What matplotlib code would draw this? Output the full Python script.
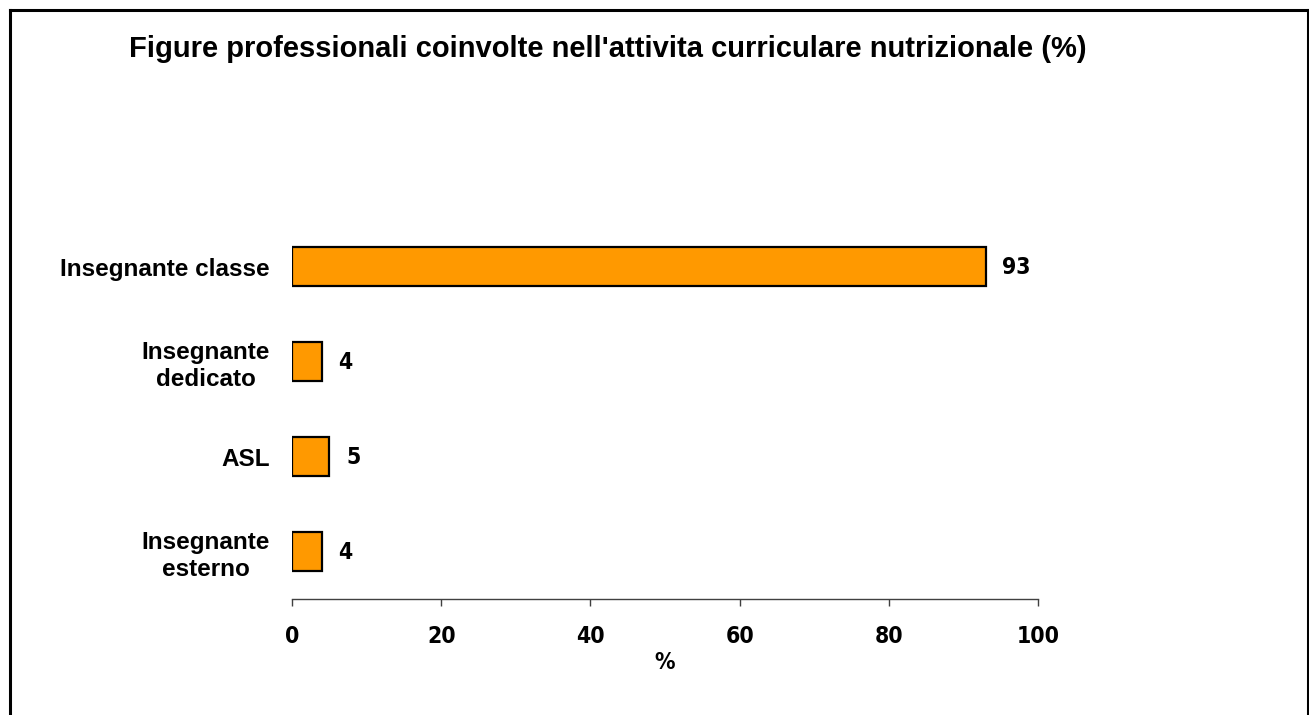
import matplotlib
matplotlib.use("Agg")
import matplotlib.pyplot as plt
from matplotlib.lines import Line2D
from matplotlib import font_manager

categories = ["Insegnante classe", "Insegnante\ndedicato", "ASL", "Insegnante\nesterno"]
values = [93, 4, 5, 4]
xticks = [0, 20, 40, 60, 80, 100]
title = "Figure professionali coinvolte nell'attivita curriculare nutrizionale (%)"

names = {f.name for f in font_manager.fontManager.ttflist}
if "Liberation Sans Narrow" in names:
    narrow = dict(fontfamily=["Liberation Sans Narrow"], fontstretch="normal")
else:
    narrow = dict(fontfamily=["DejaVu Sans"], fontstretch="condensed")
regular = ["Liberation Sans", "DejaVu Sans"]

fig = plt.figure(figsize=(13.09, 7.15), dpi=100)
ax = fig.add_axes([0.2231, 0.1622, 0.793 - 0.2231, 0.6937 - 0.1622])

ypos = list(range(len(categories)))
ax.barh(ypos, values, height=0.41, color="#FF9900", edgecolor="black", linewidth=1.6)
ax.set_ylim(len(categories) - 0.5, -0.5)
ax.set_xlim(0, 100)
ax.set_yticks(ypos)
ax.set_yticklabels(categories, fontfamily=regular, fontweight="bold", fontsize=17.5,
                   multialignment="center", linespacing=1.2)
ax.set_xticks(xticks)
ax.set_xticklabels([str(t) for t in xticks], fontweight="bold", fontsize=16.5, **narrow)
ax.tick_params(axis="y", length=0, pad=16)
ax.tick_params(axis="x", length=5, width=1, color="#404040", pad=14)
for s in ["top", "right", "left"]:
    ax.spines[s].set_visible(False)
ax.spines["bottom"].set_color("#404040")
ax.spines["bottom"].set_linewidth(1)

for y, v in zip(ypos, values):
    ax.annotate(str(v), (v, y), xytext=(12, -1), textcoords="offset points",
                va="center", ha="left", fontweight="bold", fontsize=16.5, **narrow)

ax.set_xlabel("%", fontweight="bold", fontsize=16.5, labelpad=2, **narrow)

fig.text(0.4645, 0.932, title, ha="center", va="center", fontfamily=regular,
         fontweight="bold", fontsize=21)

# figure frame (left, top, right)
fig.add_artist(Line2D([9.5 / 1309, 9.5 / 1309], [0, 1 - 9.5 / 715], transform=fig.transFigure,
                      color="black", linewidth=2.2))
fig.add_artist(Line2D([9.5 / 1309, 1307.5 / 1309], [1 - 9.5 / 715, 1 - 9.5 / 715],
                      transform=fig.transFigure, color="black", linewidth=2.2))
fig.add_artist(Line2D([1307.5 / 1309, 1307.5 / 1309], [0, 1 - 9.5 / 715], transform=fig.transFigure,
                      color="black", linewidth=2.2))

fig.savefig("out.png", dpi=100)
